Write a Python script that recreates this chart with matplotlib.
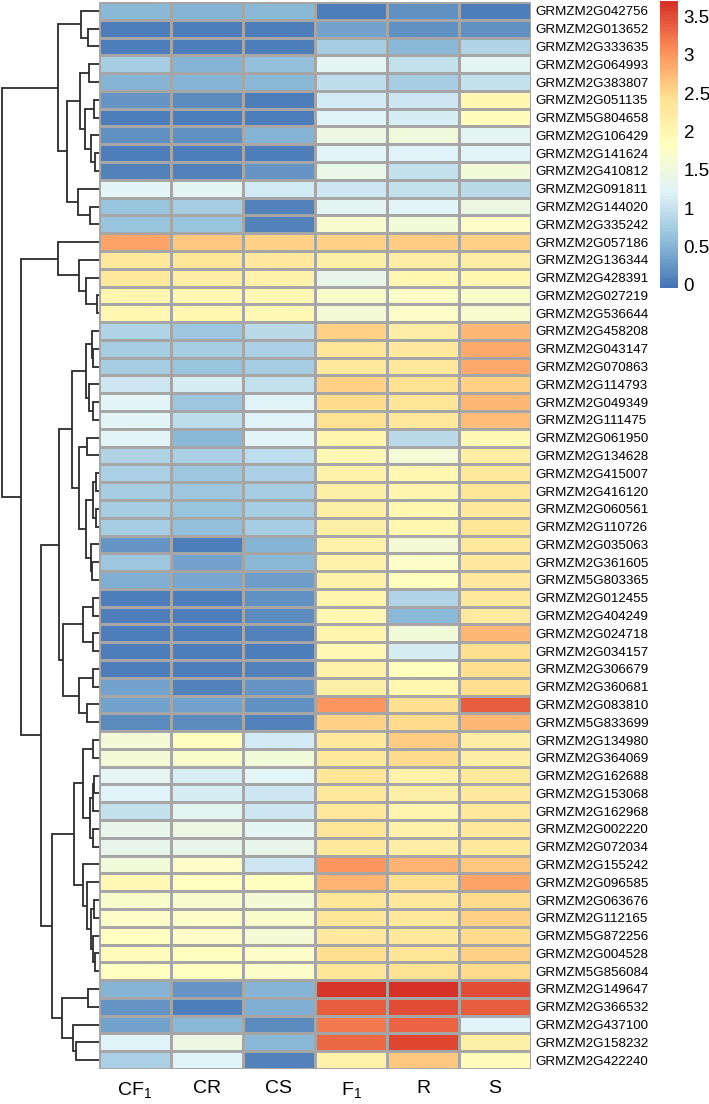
import numpy as np
import matplotlib
matplotlib.use("Agg")
import matplotlib.pyplot as plt
from matplotlib.colors import LinearSegmentedColormap

plt.rcParams['font.family'] = ['Liberation Sans', 'DejaVu Sans']
plt.rcParams['mathtext.fontset'] = 'custom'
plt.rcParams['mathtext.rm'] = 'Liberation Sans'
plt.rcParams['mathtext.it'] = 'Liberation Sans'

genes = ["GRMZM2G042756", "GRMZM2G013652", "GRMZM2G333635", "GRMZM2G064993", "GRMZM2G383807",
         "GRMZM2G051135", "GRMZM5G804658", "GRMZM2G106429", "GRMZM2G141624", "GRMZM2G410812",
         "GRMZM2G091811", "GRMZM2G144020", "GRMZM2G335242", "GRMZM2G057186", "GRMZM2G136344",
         "GRMZM2G428391", "GRMZM2G027219", "GRMZM2G536644", "GRMZM2G458208", "GRMZM2G043147",
         "GRMZM2G070863", "GRMZM2G114793", "GRMZM2G049349", "GRMZM2G111475", "GRMZM2G061950",
         "GRMZM2G134628", "GRMZM2G415007", "GRMZM2G416120", "GRMZM2G060561", "GRMZM2G110726",
         "GRMZM2G035063", "GRMZM2G361605", "GRMZM5G803365", "GRMZM2G012455", "GRMZM2G404249",
         "GRMZM2G024718", "GRMZM2G034157", "GRMZM2G306679", "GRMZM2G360681", "GRMZM2G083810",
         "GRMZM5G833699", "GRMZM2G134980", "GRMZM2G364069", "GRMZM2G162688", "GRMZM2G153068",
         "GRMZM2G162968", "GRMZM2G002220", "GRMZM2G072034", "GRMZM2G155242", "GRMZM2G096585",
         "GRMZM2G063676", "GRMZM2G112165", "GRMZM5G872256", "GRMZM2G004528", "GRMZM5G856084",
         "GRMZM2G149647", "GRMZM2G366532", "GRMZM2G437100", "GRMZM2G158232", "GRMZM2G422240"]

samples = [r"CF$_1$", "CR", "CS", r"F$_1$", "R", "S"]

# expression values, columns CF1, CR, CS, F1, R, S
values = [
    [0.55, 0.50, 0.55, 0.05, 0.20, 0.05],
    [0.05, 0.05, 0.05, 0.35, 0.20, 0.20],
    [0.05, 0.05, 0.05, 0.75, 0.55, 0.85],
    [0.75, 0.50, 0.60, 1.30, 1.00, 1.30],
    [0.50, 0.50, 0.55, 0.95, 0.75, 1.00],
    [0.25, 0.15, 0.05, 1.10, 1.05, 2.00],
    [0.05, 0.05, 0.05, 1.20, 1.15, 1.90],
    [0.20, 0.20, 0.50, 1.45, 1.50, 1.30],
    [0.05, 0.05, 0.05, 1.25, 1.20, 1.25],
    [0.10, 0.10, 0.25, 1.40, 1.00, 1.55],
    [1.25, 1.30, 1.10, 1.05, 1.00, 0.90],
    [0.65, 0.75, 0.10, 1.30, 1.25, 1.45],
    [0.65, 0.65, 0.10, 1.65, 1.55, 1.75],
    [2.90, 2.65, 2.55, 2.55, 2.60, 2.55],
    [2.30, 2.35, 2.25, 2.15, 2.20, 2.20],
    [2.30, 2.20, 2.10, 1.35, 2.00, 2.00],
    [2.05, 2.00, 1.95, 1.70, 1.75, 1.70],
    [2.00, 2.00, 1.95, 1.60, 1.75, 1.65],
    [0.85, 0.70, 0.90, 2.55, 2.20, 2.75],
    [0.75, 0.75, 0.80, 2.35, 2.25, 2.85],
    [0.75, 0.65, 0.75, 2.30, 2.30, 2.85],
    [1.05, 1.15, 1.00, 2.55, 2.40, 2.55],
    [1.25, 0.70, 1.20, 2.50, 2.35, 2.75],
    [1.25, 0.95, 1.20, 2.40, 2.30, 2.70],
    [1.25, 0.55, 1.25, 2.05, 0.90, 1.95],
    [0.85, 0.80, 0.95, 1.95, 1.60, 2.20],
    [0.80, 0.70, 0.80, 2.10, 2.00, 2.30],
    [0.75, 0.70, 0.75, 2.15, 2.05, 2.35],
    [0.75, 0.65, 0.75, 2.15, 2.00, 2.30],
    [0.75, 0.60, 0.75, 2.15, 2.00, 2.35],
    [0.25, 0.05, 0.50, 2.10, 1.60, 2.30],
    [0.70, 0.35, 0.55, 2.10, 1.75, 2.25],
    [0.45, 0.40, 0.30, 2.10, 1.85, 2.25],
    [0.05, 0.05, 0.20, 2.05, 0.85, 2.30],
    [0.05, 0.05, 0.15, 2.00, 0.55, 2.25],
    [0.05, 0.05, 0.10, 2.05, 1.55, 2.75],
    [0.05, 0.05, 0.05, 1.95, 1.15, 2.45],
    [0.05, 0.05, 0.10, 2.10, 1.85, 2.45],
    [0.35, 0.10, 0.25, 2.15, 2.00, 2.45],
    [0.35, 0.35, 0.20, 3.00, 2.45, 3.40],
    [0.15, 0.15, 0.10, 2.55, 2.50, 2.75],
    [1.60, 1.85, 1.10, 2.30, 2.60, 2.20],
    [1.60, 1.70, 1.55, 2.30, 2.50, 2.20],
    [1.30, 1.15, 1.25, 2.35, 2.10, 2.30],
    [1.20, 1.15, 1.05, 2.30, 2.15, 2.25],
    [1.00, 1.30, 1.05, 2.30, 2.05, 2.30],
    [1.35, 1.45, 1.30, 2.35, 2.10, 2.30],
    [1.35, 1.35, 1.35, 2.30, 2.20, 2.30],
    [1.55, 1.75, 1.05, 3.00, 2.80, 2.65],
    [1.95, 1.80, 1.85, 2.80, 2.45, 2.90],
    [1.70, 1.65, 1.60, 2.35, 2.30, 2.50],
    [1.75, 1.75, 1.70, 2.35, 2.30, 2.55],
    [1.80, 1.75, 1.60, 2.25, 2.30, 2.50],
    [1.90, 1.85, 1.75, 2.45, 2.35, 2.55],
    [1.80, 1.80, 1.75, 2.35, 2.40, 2.50],
    [0.50, 0.25, 0.50, 3.65, 3.68, 3.50],
    [0.25, 0.05, 0.45, 3.40, 3.50, 3.40],
    [0.35, 0.55, 0.15, 3.20, 3.35, 1.20],
    [1.20, 1.45, 0.55, 3.30, 3.55, 2.15],
    [0.80, 1.20, 0.10, 2.10, 2.65, 1.90],
]

# row dendrogram merges: (child a, child b, height); leaves 0..59, new nodes from 60
merges = [
    (1, 2, 11), (0, 60, 18), (3, 4, 10), (5, 6, 5), (8, 9, 4), (7, 64, 8),
    (63, 65, 14), (62, 66, 19), (11, 12, 9), (10, 68, 21), (67, 69, 32), (61, 70, 41),
    (16, 17, 2.3), (15, 72, 13), (14, 73, 20), (13, 74, 41),
    (19, 20, 6), (18, 76, 7.5), (22, 23, 6), (21, 78, 9.7), (77, 79, 13.3),
    (24, 25, 12.3), (26, 27, 3), (28, 29, 3), (82, 83, 6.3), (31, 32, 7), (30, 85, 7.7),
    (84, 86, 13.3), (81, 87, 19.7), (80, 88, 27.3),
    (33, 34, 5.7), (35, 36, 5.7), (90, 91, 16.3), (37, 38, 6.3), (39, 40, 11.7),
    (93, 94, 20), (92, 95, 36.3), (89, 96, 39.7),
    (41, 42, 6.3), (43, 44, 5), (99, 45, 6.3), (46, 47, 6.3), (100, 101, 9), (98, 102, 15.7),
    (50, 51, 4.7), (53, 54, 4), (52, 105, 6.3), (104, 106, 8), (49, 107, 11.7), (48, 108, 16.3),
    (103, 109, 25), (55, 56, 10.7), (58, 59, 23.3), (57, 112, 26.3), (111, 113, 37.3),
    (110, 114, 47.3), (97, 115, 58.3), (75, 116, 78.3), (71, 117, 96.7),
]

data = np.array(values)
n_rows, n_cols = data.shape

cmap = LinearSegmentedColormap.from_list(
    "pheat", ["#4575B4", "#91BFDB", "#E0F3F8", "#FFFFBF", "#FEE090", "#FC8D59", "#D73027"], N=100)
vmin, vmax = -0.04, 3.7

W, H = 709, 1104
fig = plt.figure(figsize=(W / 100, H / 100), dpi=100)

top, bottom = 2, 1069
ax = fig.add_axes([99 / W, (H - bottom) / H, (531 - 99) / W, (bottom - top) / H])
mesh = ax.pcolormesh(np.arange(n_cols + 1), np.arange(n_rows + 1), data, cmap=cmap,
                     vmin=vmin, vmax=vmax, edgecolors="#a6a6a6", linewidth=0.9)
ax.set_xlim(0, n_cols)
ax.set_ylim(n_rows, 0)
ax.yaxis.tick_right()
ax.set_yticks(np.arange(n_rows) + 0.5)
ax.set_yticklabels(genes, fontsize=9.6)
ax.set_xticks(np.arange(n_cols) + 0.5)
ax.set_xticklabels(samples, fontsize=14)
ax.tick_params(length=0, pad=3)
ax.tick_params(axis="x", pad=8)
for s in ax.spines.values():
    s.set_visible(False)

# dendrogram
dax = fig.add_axes([0, (H - bottom) / H, 99 / W, (bottom - top) / H])
pos = {i: i + 0.5 for i in range(n_rows)}
hgt = {i: 0.0 for i in range(n_rows)}
for k, (a, b, h) in enumerate(merges):
    node = n_rows + k
    ya, yb = pos[a], pos[b]
    dax.plot([hgt[a], h, h, hgt[b]], [ya, ya, yb, yb], color="#2b2b2b", lw=1.3,
             solid_capstyle="butt", solid_joinstyle="miter")
    pos[node] = (ya + yb) / 2
    hgt[node] = h
dax.set_xlim(99, 0)
dax.set_ylim(n_rows, 0)
dax.axis("off")

# colour legend
cax = fig.add_axes([660 / W, (H - 288) / H, 18 / W, 287 / H])
cb = fig.colorbar(mesh, cax=cax)
cb.outline.set_visible(False)
cb.set_ticks([0, 0.5, 1, 1.5, 2, 2.5, 3, 3.5])
cb.set_ticklabels(["0", "0.5", "1", "1.5", "2", "2.5", "3", "3.5"])
cax.tick_params(length=0, labelsize=13.5, pad=4)

fig.savefig("out.png", dpi=100)
